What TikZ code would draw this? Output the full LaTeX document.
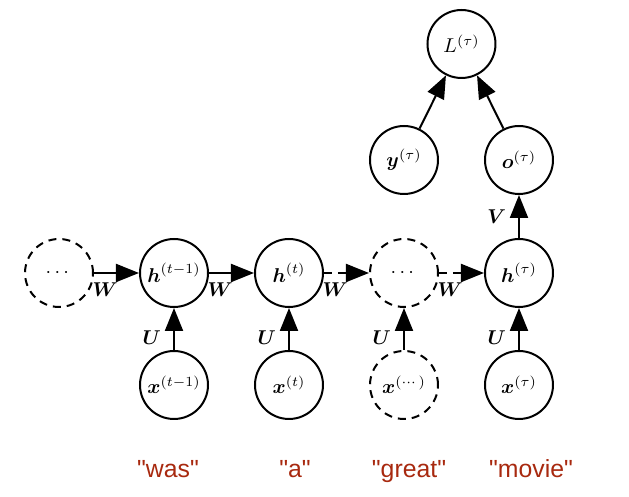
\documentclass[tikz,border=0pt]{standalone}
\usepackage{amsmath}
\usepackage{fontspec}
\newfontfamily\wordfont{Liberation Sans}
\usepackage{tikz}
\usetikzlibrary{arrows.meta, positioning, calc}
\definecolor{word}{HTML}{A8290F}

\begin{document}
\begin{tikzpicture}[
  unit/.style={draw, circle, line width=1pt, minimum size=34pt, inner sep=0pt},
  ghost/.style={unit, dash pattern=on 4pt off 3pt},
  arr/.style={-{Triangle[length=11.5pt, width=9pt]}, line width=1pt},
  darr/.style={arr, dash pattern=on 4pt off 3pt},
  wlab/.style={below, inner sep=4.5pt},
  ulab/.style={left, inner sep=6pt},
  word/.style={font=\wordfont\fontsize{12.4}{14}\selectfont, text=word, anchor=base},
  node distance=21pt and 22.5pt,
]
\useasboundingbox (-29.5pt,-112pt) rectangle (285pt,136.5pt);
% hidden states
\node[ghost] (hstart) at (0,0) {$\cdots$};
\node[unit, right=of hstart] (hprev) {$\boldsymbol{h}^{(t-1)}$};
\node[unit, right=of hprev] (hnow) {$\boldsymbol{h}^{(t)}$};
\node[ghost, right=of hnow] (hdots) {$\cdots$};
\node[unit, right=of hdots] (htau) {$\boldsymbol{h}^{(\tau)}$};
% inputs
\node[unit, below=of hprev] (xprev) {$\boldsymbol{x}^{(t-1)}$};
\node[unit, below=of hnow] (xnow) {$\boldsymbol{x}^{(t)}$};
\node[ghost, below=of hdots] (xdots) {$\boldsymbol{x}^{(\cdots)}$};
\node[unit, below=of htau] (xtau) {$\boldsymbol{x}^{(\tau)}$};
% output and loss
\node[unit, above=21.5pt of htau] (otau) {$\boldsymbol{o}^{(\tau)}$};
\node[unit, left=of otau] (ytau) {$\boldsymbol{y}^{(\tau)}$};
\node[unit] (loss) at ($(ytau)!0.5!(otau)+(0,58pt)$) {$L^{(\tau)}$};
% words
\node[word] (wwas) at ([xshift=-3pt, yshift=-29pt]xprev.south) {"was"};
\node[word] (wa) at ([xshift=3pt, yshift=-29pt]xnow.south) {"a"};
\node[word] (wgreat) at ([xshift=2.5pt, yshift=-29pt]xdots.south) {"great"};
\node[word] (wmovie) at ([xshift=6pt, yshift=-29pt]xtau.south) {"movie"};

\draw[arr] (hstart) -- node[wlab, near start] {$\boldsymbol{W}$} (hprev);
\draw[arr] (hprev) -- node[wlab, near start] {$\boldsymbol{W}$} (hnow);
\draw[darr] (hnow) -- node[wlab, near start] {$\boldsymbol{W}$} (hdots);
\draw[darr] (hdots) -- node[wlab, near start] {$\boldsymbol{W}$} (htau);
\draw[arr] (xprev) -- node[ulab, pos=0.3] {$\boldsymbol{U}$} (hprev);
\draw[arr] (xnow) -- node[ulab, pos=0.3] {$\boldsymbol{U}$} (hnow);
\draw[arr] (xdots) -- node[ulab, pos=0.3] {$\boldsymbol{U}$} (hdots);
\draw[arr] (xtau) -- node[ulab, pos=0.3] {$\boldsymbol{U}$} (htau);
\draw[arr] (htau) -- node[ulab] {$\boldsymbol{V}$} (otau);
\draw[arr] (ytau) -- (loss);
\draw[arr] (otau) -- (loss);
\end{tikzpicture}
\end{document}
